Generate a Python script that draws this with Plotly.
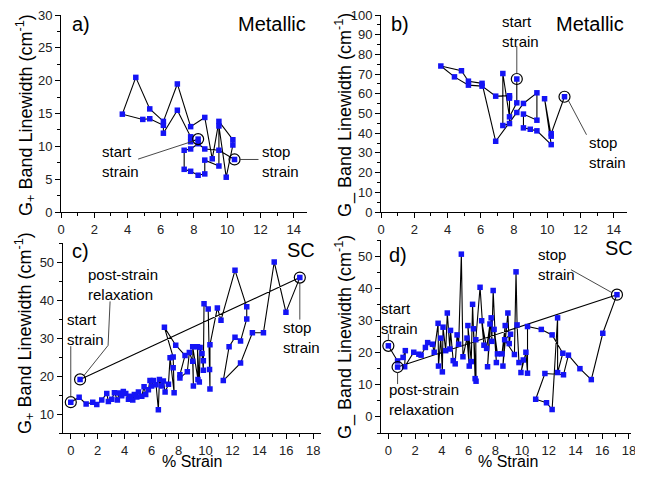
import plotly.graph_objects as go

# ---------------- data ----------------
# a) Metallic, G+ linewidth vs strain
a_x = [8.25, 7.8, 7.8, 7.0, 6.16, 6.16, 5.34, 4.92, 3.69, 4.5, 5.34, 6.16, 7.0, 7.8, 8.65,
       9.1, 9.5, 10.34, 10.34, 9.94, 9.5, 9.5, 8.65, 8.65, 8.25, 7.8, 7.41, 7.41, 7.8, 8.25,
       8.65, 9.5, 10.44]
a_y = [11.1, 10.7, 11.45, 15.5, 12.0, 13.2, 14.2, 14.1, 14.9, 20.5, 15.7, 13.8, 19.5, 13.0, 14.4,
       8.1, 13.8, 11.0, 10.2, 5.3, 13.1, 7.0, 7.9, 5.8, 5.6, 6.2, 6.5, 9.4, 9.6, 10.4,
       9.6, 9.4, 8.0]

# b) Metallic, G- linewidth vs strain
b_x = [8.17, 8.17, 7.73, 7.33, 7.33, 7.73, 7.73, 7.73, 6.9, 6.08, 5.26, 4.42, 3.6, 4.84, 5.26,
       6.08, 6.9, 8.17, 8.57, 9.38, 9.38, 8.57, 8.57, 8.98, 9.38, 10.24, 9.84, 10.24, 10.24, 11.04]
b_y = [67.5, 55.4, 48.3, 70.3, 43.9, 44.9, 57.8, 59.0, 58.8, 63.9, 64.4, 68.6, 74.1, 71.7, 66.4,
       65.3, 35.9, 50.5, 55.1, 60.5, 46.6, 49.7, 42.7, 42.0, 41.2, 34.2, 57.5, 38.5, 39.8, 58.5]

# c) SC, G+ linewidth vs % strain
c_x = [0.0, 0.62, 1.14, 1.63, 1.93, 2.3, 2.67, 2.79, 3.04, 3.24, 3.46, 3.59, 3.78, 3.9, 4.08,
       4.28, 4.45, 4.6, 4.72, 4.9, 5.02, 5.27, 5.44, 5.56, 5.76, 5.88, 6.0, 6.13, 6.33, 6.5,
       6.58, 6.75, 6.87, 7.0, 7.25, 7.37, 7.67, 7.6, 7.6, 6.95, 7.79, 8.48, 8.1, 8.1, 8.65,
       8.8, 9.05, 9.1, 9.05, 9.44, 9.4, 9.54, 9.6, 9.84, 9.74, 9.84, 9.89, 10.2, 10.3, 10.33,
       10.33, 10.88, 11.15, 12.19, 13.06, 13.06, 12.6, 12.19, 11.75, 11.32, 12.6, 13.48, 14.3,
       15.1, 15.97, 17.0, 0.69]
c_y = [13.1, 14.4, 12.6, 13.1, 12.5, 13.7, 15.4, 13.3, 13.9, 15.6, 13.7, 15.5, 14.8, 15.9, 15.4,
       13.9, 14.7, 13.7, 15.1, 14.5, 15.8, 14.7, 17.2, 15.1, 16.4, 18.8, 17.4, 18.8, 17.7, 11.1,
       19.1, 17.4, 18.7, 15.8, 17.8, 24.8, 15.6, 22.2, 25.0, 32.8, 28.1, 25.4, 20.3, 19.5, 21.1,
       26.2, 23.9, 17.4, 27.7, 19.1, 27.7, 18.4, 27.5, 24.0, 25.9, 21.5, 39.0, 37.6, 21.7, 16.6,
       28.2, 37.9, 34.7, 47.8, 38.2, 35.0, 29.2, 30.2, 27.7, 18.8, 23.4, 31.4, 31.4,
       50.0, 36.8, 45.9, 19.1]

# d) SC, G- linewidth vs % strain
d_x = [0.0, 0.69, 1.1, 1.27, 1.22, 1.9, 2.28, 2.45, 2.77, 2.94, 3.3, 3.43, 3.72, 3.75, 3.92,
       4.04, 4.09, 4.29, 4.41, 4.6, 4.65, 4.85, 5.0, 5.14, 5.26, 5.46, 5.58, 5.88, 6.05, 5.95,
       6.2, 6.3, 6.49, 6.37, 6.56, 6.54, 6.86, 7.15, 6.98, 7.35, 7.6, 7.42, 7.69, 7.74, 7.84,
       8.08, 7.91, 8.16, 8.5, 8.74, 8.57, 8.94, 9.04, 9.14, 8.7, 9.43, 9.55, 9.63, 9.77, 10.09,
       9.92, 10.29, 10.41, 10.41, 11.44, 12.25, 13.05, 12.66, 12.66, 12.25, 11.83, 11.02, 11.71,
       13.1, 13.47, 14.33, 15.18, 16.04, 17.1, 0.69]
d_y = [22.1, 17.4, 18.5, 20.6, 15.6, 20.1, 19.5, 19.2, 21.6, 23.1, 22.6, 20.1, 29.1, 15.8, 24.5,
       14.0, 27.9, 20.6, 32.3, 21.1, 26.9, 17.5, 16.5, 25.5, 22.6, 50.6, 18.7, 24.5, 15.8, 28.4,
       17.2, 35.0, 11.9, 27.4, 11.1, 24.0, 40.3, 22.3, 29.9, 21.3, 28.9, 15.6, 30.8, 23.5, 39.3,
       16.9, 27.2, 19.6, 19.6, 28.4, 15.8, 32.3, 22.8, 25.7, 24.0, 19.4, 45.1, 28.6, 16.9, 17.7,
       13.8, 20.1, 13.6, 28.1, 27.2, 25.5, 19.8, 13.8, 30.8, 2.3, 4.4, 5.5, 13.5,
       13.1, 19.2, 15.0, 11.6, 26.0, 38.0, 15.5]

# indices of marked (circled) points per panel
a_marks = [0, len(a_x) - 1]
b_marks = [0, len(b_x) - 1]
c_marks = [0, len(c_x) - 2, len(c_x) - 1]
d_marks = [0, len(d_x) - 2, len(d_x) - 1]

FONT = "Arial, Liberation Sans, sans-serif"
BLUE = "#1414f5"

fig = go.Figure()
panels = [
    ("x", "y", a_x, a_y, a_marks),
    ("x2", "y2", b_x, b_y, b_marks),
    ("x3", "y3", c_x, c_y, c_marks),
    ("x4", "y4", d_x, d_y, d_marks),
]
for xa, ya, xs, ys, marks in panels:
    fig.add_trace(go.Scatter(
        x=xs, y=ys, xaxis=xa, yaxis=ya, mode="lines+markers",
        line=dict(color="black", width=1.1),
        marker=dict(symbol="square", size=5.5, color=BLUE, line=dict(width=0)),
        showlegend=False, hoverinfo="skip"))
    fig.add_trace(go.Scatter(
        x=[xs[i] for i in marks], y=[ys[i] for i in marks], xaxis=xa, yaxis=ya,
        mode="markers",
        marker=dict(symbol="circle-open", size=11, color="black", line=dict(width=1.2)),
        showlegend=False, hoverinfo="skip"))

W, H = 635, 473

def PX(p):  # pixel x -> paper fraction
    return p / W

def PY(p):  # pixel y (from top) -> paper fraction
    return 1 - p / H

def axis_common(dom, rng, dtick, minor_dtick, anchor, tick0=0):
    return dict(domain=dom, range=rng, dtick=dtick, tick0=tick0, anchor=anchor,
                showline=True, linecolor="black", linewidth=1, mirror=False,
                ticks="outside", ticklen=5, tickwidth=1, tickcolor="black",
                minor=dict(ticks="outside", ticklen=3, dtick=minor_dtick, tickcolor="black"),
                showgrid=False, zeroline=False, automargin=False, ticklabeloverflow="allow",
                tickfont=dict(family=FONT, size=13, color="#222"))

yA = [PY(212), PY(15)]
yC = [PY(433), PY(243)]
yD = [PY(433), PY(240)]
fig.update_layout(
    width=W, height=H, margin=dict(l=0, r=0, t=0, b=0),
    paper_bgcolor="white", plot_bgcolor="white",
    xaxis=axis_common([PX(61), PX(307)], [0, 14.8], 2, 1, "y"),
    yaxis=axis_common(yA, [0, 30], 5, 2.5, "x"),
    xaxis2=axis_common([PX(381), PX(627)], [0, 14.8], 2, 1, "y2"),
    yaxis2=axis_common(yA, [0, 100], 10, 5, "x2"),
    xaxis3=axis_common([PX(62.7), PX(320.7)], [-0.6, 18.55], 2, 1, "y3"),
    yaxis3=axis_common(yC, [5, 55], 10, 5, "x3"),
    xaxis4=axis_common([PX(381), PX(631)], [-0.55, 18.15], 2, 1, "y4"),
    yaxis4=axis_common(yD, [-5, 55], 10, 5, "x4", tick0=0),
)

ann = []
def paper_text(text, x, y, size, angle=0):
    ann.append(dict(text=text, x=PX(x), y=PY(y), xref="paper", yref="paper",
                    showarrow=False, textangle=angle, xanchor="center", yanchor="middle",
                    font=dict(family=FONT, size=size, color="black")))

# panel labels
paper_text("a)", 81, 24, 20)
paper_text("Metallic", 272, 24, 20)
paper_text("b)", 400, 24, 20)
paper_text("Metallic", 590, 24, 20)
paper_text("c)", 80, 251, 20)
paper_text("SC", 301, 250, 20)
paper_text("d)", 398, 255, 20)
paper_text("SC", 619, 248, 20)
# axis titles
paper_text("G<sub>+</sub> Band Linewidth (cm<sup>-1</sup>)", 26, 115, 18, -90)
paper_text("G_ Band Linewidth (cm<sup>-1</sup>)", 344, 115, 18, -90)
paper_text("G<sub>+</sub> Band Linewidth (cm<sup>-1</sup>)", 24, 333, 18, -90)
paper_text("G_ Band Linewidth (cm<sup>-1</sup>)", 344, 337, 18, -90)
paper_text("% Strain", 192, 461, 16)
paper_text("% Strain", 508, 461, 16)

shapes = []
# callouts: (xaxis, yaxis, x, y, text, text dx, text dy (down +), leader polyline offsets (down +))
callouts = [
    ("x", "y", a_x[0], a_y[0], "start<br>strain", -78, 22, [(-60, 20), (-5, 2)]),
    ("x", "y", a_x[-1], a_y[-1], "stop<br>strain", 46, 2, [(5, 0), (24, 0)]),
    ("x2", "y2", b_x[0], b_y[0], "start<br>strain", 4, -48, [(0, -5), (0, -33)]),
    ("x2", "y2", b_x[-1], b_y[-1], "stop<br>strain", 43, 56, [(4, 4), (22, 38)]),
    ("x3", "y3", c_x[0], c_y[0], "start<br>strain", 15, -73, [(0, -5), (0, -56)]),
    ("x3", "y3", c_x[-1], c_y[-1], "post-strain<br>relaxation", 43, -95, [(4, -4), (28, -34), (30, -78)]),
    ("x3", "y3", c_x[-2], c_y[-2], "stop<br>strain", 2, 60, [(0, 5), (0, 42)]),
    ("x4", "y4", d_x[0], d_y[0], "start<br>strain", 11, -27, [(0, -5), (0, -12)]),
    ("x4", "y4", d_x[-1], d_y[-1], "post-strain<br>relaxation", 26, 32, [(0, 5), (0, 17)]),
    ("x4", "y4", d_x[-2], d_y[-2], "stop<br>strain", -60, -30, [(-5, -2), (-46, -25)]),
]
for xa, ya, x, y, text, dx, dy, pts in callouts:
    ann.append(dict(text=text, x=x, y=y, xref=xa, yref=ya, showarrow=False,
                    xshift=dx, yshift=-dy, align="left", xanchor="center", yanchor="middle",
                    font=dict(family=FONT, size=15, color="black")))
    for (x0, y0), (x1, y1) in zip(pts[:-1], pts[1:]):
        shapes.append(dict(type="line", xref=xa, yref=ya, xsizemode="pixel", ysizemode="pixel",
                           xanchor=x, yanchor=y, x0=x0, x1=x1, y0=-y0, y1=-y1,
                           line=dict(color="#333", width=0.9)))

fig.update_layout(annotations=ann, shapes=shapes)
fig.write_html("out.html")
